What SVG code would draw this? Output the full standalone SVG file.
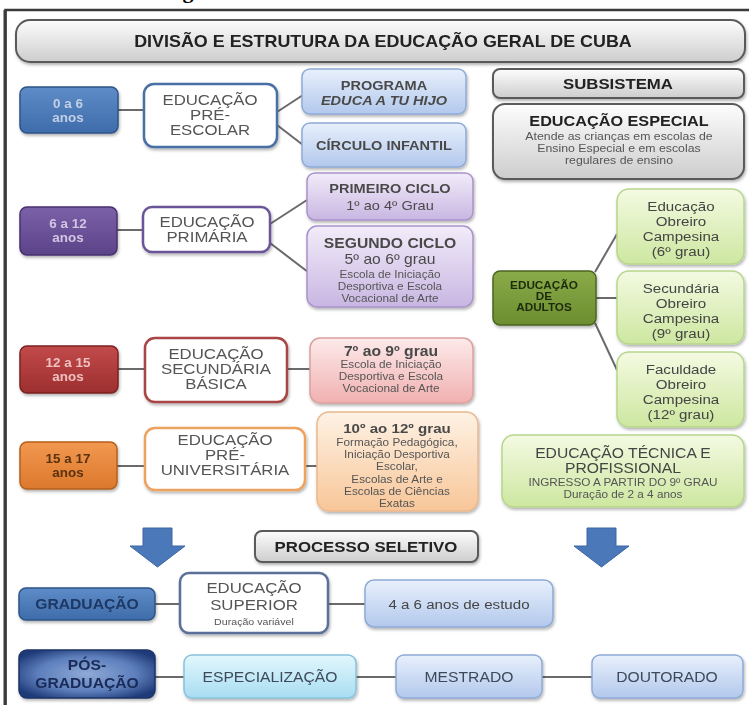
<svg xmlns="http://www.w3.org/2000/svg" width="749" height="705" viewBox="0 0 749 705">
<defs>
<linearGradient id="gGray" x1="0" y1="0" x2="0" y2="1"><stop offset="0" stop-color="#fdfdfd"/><stop offset="1" stop-color="#cdcdcd"/></linearGradient>
<linearGradient id="gBlueL" x1="0" y1="0" x2="0" y2="1"><stop offset="0" stop-color="#e8f0fc"/><stop offset="1" stop-color="#b2c8ec"/></linearGradient>
<linearGradient id="gPurL" x1="0" y1="0" x2="0" y2="1"><stop offset="0" stop-color="#f2ecf9"/><stop offset="1" stop-color="#c8b6e2"/></linearGradient>
<linearGradient id="gPink" x1="0" y1="0" x2="0" y2="1"><stop offset="0" stop-color="#fdeaea"/><stop offset="1" stop-color="#f1b0b0"/></linearGradient>
<linearGradient id="gPeach" x1="0" y1="0" x2="0" y2="1"><stop offset="0" stop-color="#fef2e4"/><stop offset="1" stop-color="#f8c699"/></linearGradient>
<linearGradient id="gGreenL" x1="0" y1="0" x2="0" y2="1"><stop offset="0" stop-color="#f4fae2"/><stop offset="1" stop-color="#cde7a0"/></linearGradient>
<linearGradient id="gCyan" x1="0" y1="0" x2="0" y2="1"><stop offset="0" stop-color="#e2f7fd"/><stop offset="1" stop-color="#a8ddf1"/></linearGradient>
<linearGradient id="gBlueD" x1="0" y1="0" x2="0" y2="1"><stop offset="0" stop-color="#5e8cc8"/><stop offset="1" stop-color="#3e6caa"/></linearGradient>
<linearGradient id="gPurD" x1="0" y1="0" x2="0" y2="1"><stop offset="0" stop-color="#7b61a8"/><stop offset="1" stop-color="#5c4388"/></linearGradient>
<linearGradient id="gRedD" x1="0" y1="0" x2="0" y2="1"><stop offset="0" stop-color="#c24a4a"/><stop offset="1" stop-color="#9d2f2f"/></linearGradient>
<linearGradient id="gOrD" x1="0" y1="0" x2="0" y2="1"><stop offset="0" stop-color="#f29850"/><stop offset="1" stop-color="#dc782c"/></linearGradient>
<linearGradient id="gGreenD" x1="0" y1="0" x2="0" y2="1"><stop offset="0" stop-color="#8aab48"/><stop offset="1" stop-color="#6c8d2f"/></linearGradient>
<radialGradient id="gPos" cx="0.5" cy="0.5" r="0.6"><stop offset="0" stop-color="#8fa9d6"/><stop offset="0.6" stop-color="#5d7fbc"/><stop offset="1" stop-color="#1f3a78"/></radialGradient>
<filter id="sh" x="-10%" y="-10%" width="125%" height="135%"><feDropShadow dx="1" dy="2" stdDeviation="1.5" flood-color="#000" flood-opacity="0.3"/></filter>
</defs>
<style>
text{font-family:"Liberation Sans",Arial,sans-serif;text-anchor:middle;transform-box:fill-box;transform-origin:center;transform:scaleX(1.12)}
.box{filter:url(#sh)}
.gray{fill:url(#gGray);stroke:#5a5a5a;stroke-width:2}
.bl{fill:url(#gBlueL);stroke:#8eaad6;stroke-width:1.5}
.pl{fill:url(#gPurL);stroke:#a992cc;stroke-width:1.5}
.pk{fill:url(#gPink);stroke:#dba0a0;stroke-width:1.5}
.pe{fill:url(#gPeach);stroke:#ebb88c;stroke-width:1.5}
.gl{fill:url(#gGreenL);stroke:#b6d68c;stroke-width:1.5}
.cy{fill:url(#gCyan);stroke:#88c2dc;stroke-width:1.5}
.wb{fill:#fff;stroke-width:2.5}
.t15{font-size:15px;fill:#555}
.tb{font-weight:bold}
.sm{font-size:10.5px;fill:#555}
.age{font-size:12px;font-weight:bold}
.con line{stroke:#6a6a6a;stroke-width:2}
.arr{fill:#4a78b8;stroke:#3b66a2;stroke-width:1}
</style>
<rect width="749" height="705" fill="#fff"/>
<text x="188" y="-2" style="font-family:'Liberation Serif',serif;font-size:22px;font-weight:bold;fill:#000;transform:none">g</text>
<rect x="5.5" y="10" width="760" height="720" fill="none" stroke="#3a3a3a" stroke-width="2.5"/>
<line x1="5" y1="10" x2="5" y2="705" stroke="#3a3a3a" stroke-width="3"/>

<g id="connectors" class="con">
<line x1="118" y1="110" x2="143" y2="110"/>
<line x1="277" y1="112" x2="303" y2="95"/>
<line x1="277" y1="125" x2="303" y2="145"/>
<line x1="117" y1="230" x2="143" y2="230"/>
<line x1="270" y1="224" x2="307" y2="200"/>
<line x1="270" y1="243" x2="308" y2="272"/>
<line x1="118" y1="369" x2="145" y2="369"/>
<line x1="287" y1="369" x2="310" y2="369"/>
<line x1="117" y1="466" x2="145" y2="466"/>
<line x1="305" y1="466" x2="317" y2="466"/>
<line x1="595" y1="272" x2="617" y2="234"/>
<line x1="595" y1="298" x2="617" y2="298"/>
<line x1="595" y1="323" x2="617" y2="370"/>
<line x1="155" y1="604" x2="180" y2="604"/>
<line x1="328" y1="604" x2="365" y2="604"/>
<line x1="155" y1="677" x2="184" y2="677"/>
<line x1="356" y1="677" x2="396" y2="677"/>
<line x1="542" y1="677" x2="592" y2="677"/>
</g>

<g id="title" class="box"><rect class="gray" x="16" y="20" width="729" height="42" rx="14"/>
<text x="383" y="47" style="font-size:16px;font-weight:bold;fill:#222">DIVISÃO E ESTRUTURA DA EDUCAÇÃO GERAL DE CUBA</text></g>

<g id="age0" class="box"><rect x="20" y="87" width="98" height="46" rx="7" fill="url(#gBlueD)" stroke="#2e5487" stroke-width="1.5"/>
<text class="age" x="68" y="108" fill="#c3cfe6">0 a 6</text><text class="age" x="68" y="122" fill="#c3cfe6">anos</text></g>
<g id="preescolar" class="box"><rect class="wb" x="144" y="84" width="133" height="63" rx="10" stroke="#4a6fa5"/>
<text class="t15" x="210" y="105">EDUCAÇÃO</text><text class="t15" x="210" y="120">PRÉ-</text><text class="t15" x="210" y="135">ESCOLAR</text></g>
<g id="programa" class="box"><rect class="bl" x="302" y="69" width="164" height="45" rx="8"/>
<text x="384" y="90" class="tb" style="font-size:13px;fill:#4a4a4a">PROGRAMA</text>
<text x="384" y="105" class="tb" style="font-size:13px;fill:#4a4a4a;font-style:italic">EDUCA A TU HIJO</text></g>
<g id="circulo" class="box"><rect class="bl" x="302" y="123" width="164" height="44" rx="8"/>
<text x="384" y="150" class="tb" style="font-size:13px;fill:#4a4a4a">CÍRCULO INFANTIL</text></g>

<g id="subsistema" class="box"><rect class="gray" x="493" y="69" width="251" height="29" rx="7"/>
<text x="618" y="89" class="tb" style="font-size:15px;fill:#222">SUBSISTEMA</text></g>
<g id="especial" class="box"><rect class="gray" x="493" y="104" width="251" height="75" rx="12"/>
<text x="619" y="126" class="tb" style="font-size:14.5px;fill:#222">EDUCAÇÃO ESPECIAL</text>
<text x="619" y="140" style="font-size:11px;fill:#555">Atende as crianças em escolas de</text>
<text x="619" y="152" style="font-size:11px;fill:#555">Ensino Especial e em escolas</text>
<text x="619" y="164" style="font-size:11px;fill:#555">regulares de ensino</text></g>

<g id="age6" class="box"><rect x="20" y="207" width="97" height="48" rx="7" fill="url(#gPurD)" stroke="#47306f" stroke-width="1.5"/>
<text class="age" x="68" y="228" fill="#d2c6e4">6 a 12</text><text class="age" x="68" y="242" fill="#d2c6e4">anos</text></g>
<g id="primaria" class="box"><rect class="wb" x="143" y="207" width="127" height="45" rx="9" stroke="#6b5598"/>
<text class="t15" x="207" y="227">EDUCAÇÃO</text><text class="t15" x="207" y="242">PRIMÁRIA</text></g>
<g id="primeiro" class="box"><rect class="pl" x="307" y="173" width="166" height="47" rx="8"/>
<text x="390" y="193" class="tb" style="font-size:13px;fill:#4a4a4a">PRIMEIRO CICLO</text>
<text x="390" y="210" style="font-size:13px;fill:#4a4a4a">1º ao 4º Grau</text></g>
<g id="segundo" class="box"><rect class="pl" x="307" y="226" width="166" height="81" rx="10"/>
<text x="390" y="248" class="tb" style="font-size:14px;fill:#4a4a4a">SEGUNDO CICLO</text>
<text x="390" y="264" style="font-size:14px;fill:#4a4a4a">5º ao 6º grau</text>
<text x="390" y="278" class="sm">Escola de Iniciação</text>
<text x="390" y="290" class="sm">Desportiva e Escola</text>
<text x="390" y="302" class="sm">Vocacional de Arte</text></g>

<g id="age12" class="box"><rect x="20" y="346" width="98" height="47" rx="7" fill="url(#gRedD)" stroke="#7c2222" stroke-width="1.5"/>
<text class="age" x="68" y="367" fill="#efc0c0">12 a 15</text><text class="age" x="68" y="381" fill="#efc0c0">anos</text></g>
<g id="secundaria" class="box"><rect class="wb" x="145" y="338" width="142" height="64" rx="10" stroke="#a84444"/>
<text class="t15" x="216" y="359">EDUCAÇÃO</text><text class="t15" x="216" y="374">SECUNDÁRIA</text><text class="t15" x="216" y="389">BÁSICA</text></g>
<g id="grau79" class="box"><rect class="pk" x="310" y="338" width="163" height="65" rx="10"/>
<text x="391" y="356" class="tb" style="font-size:14px;fill:#4a4a4a">7º ao 9º grau</text>
<text x="391" y="368" class="sm">Escola de Iniciação</text>
<text x="391" y="380" class="sm">Desportiva e Escola</text>
<text x="391" y="392" class="sm">Vocacional de Arte</text></g>

<g id="age15" class="box"><rect x="20" y="442" width="97" height="47" rx="7" fill="url(#gOrD)" stroke="#b55f1c" stroke-width="1.5"/>
<text class="age" x="68" y="463" fill="#5a3210">15 a 17</text><text class="age" x="68" y="477" fill="#5a3210">anos</text></g>
<g id="preuniv" class="box"><rect class="wb" x="145" y="428" width="160" height="62" rx="10" stroke="#eea260"/>
<text class="t15" x="225" y="445">EDUCAÇÃO</text><text class="t15" x="225" y="460">PRÉ-</text><text class="t15" x="225" y="475">UNIVERSITÁRIA</text></g>
<g id="grau1012" class="box"><rect class="pe" x="317" y="412" width="161" height="99" rx="12"/>
<text x="397" y="433" class="tb" style="font-size:13.5px;fill:#4a4a4a">10º ao 12º grau</text>
<text x="397" y="446" class="sm">Formação Pedagógica,</text>
<text x="397" y="458" class="sm">Iniciação Desportiva</text>
<text x="397" y="470" class="sm">Escolar,</text>
<text x="397" y="483" class="sm">Escolas de Arte e</text>
<text x="397" y="495" class="sm">Escolas de Ciências</text>
<text x="397" y="507" class="sm">Exatas</text></g>

<g id="adultos" class="box"><rect x="493" y="271" width="103" height="54" rx="7" fill="url(#gGreenD)" stroke="#4b6620" stroke-width="1.5"/>
<text x="544" y="289" class="tb" style="font-size:10.5px;fill:#1e2a0e">EDUCAÇÃO</text>
<text x="544" y="300" class="tb" style="font-size:10.5px;fill:#1e2a0e">DE</text>
<text x="544" y="311" class="tb" style="font-size:10.5px;fill:#1e2a0e">ADULTOS</text></g>
<g id="obreiro6" class="box"><rect class="gl" x="617" y="189" width="127" height="75" rx="12"/>
<text x="681" y="211" style="font-size:13.5px;fill:#444">Educação</text>
<text x="681" y="226" style="font-size:13.5px;fill:#444">Obreiro</text>
<text x="681" y="241" style="font-size:13.5px;fill:#444">Campesina</text>
<text x="681" y="256" style="font-size:13.5px;fill:#444">(6º grau)</text></g>
<g id="obreiro9" class="box"><rect class="gl" x="617" y="271" width="127" height="73" rx="12"/>
<text x="681" y="293" style="font-size:13.5px;fill:#444">Secundária</text>
<text x="681" y="308" style="font-size:13.5px;fill:#444">Obreiro</text>
<text x="681" y="323" style="font-size:13.5px;fill:#444">Campesina</text>
<text x="681" y="338" style="font-size:13.5px;fill:#444">(9º grau)</text></g>
<g id="obreiro12" class="box"><rect class="gl" x="617" y="352" width="127" height="75" rx="12"/>
<text x="681" y="374" style="font-size:13.5px;fill:#444">Faculdade</text>
<text x="681" y="389" style="font-size:13.5px;fill:#444">Obreiro</text>
<text x="681" y="404" style="font-size:13.5px;fill:#444">Campesina</text>
<text x="681" y="419" style="font-size:13.5px;fill:#444">(12º grau)</text></g>
<g id="tecnica" class="box"><rect class="gl" x="502" y="435" width="242" height="72" rx="12"/>
<text x="623" y="458" style="font-size:14px;fill:#444">EDUCAÇÃO TÉCNICA E</text>
<text x="623" y="473" style="font-size:14px;fill:#444">PROFISSIONAL</text>
<text x="623" y="486" class="sm">INGRESSO A PARTIR DO 9º GRAU</text>
<text x="623" y="498" class="sm">Duração de 2 a 4 anos</text></g>

<g id="arrowL"><path class="arr" d="M143,528 H172 V546 H185 L157.5,567 L130,546 H143 Z"/></g>
<g id="arrowR"><path class="arr" d="M587,528 H616 V546 H629 L601.5,567 L574,546 H587 Z"/></g>
<g id="processo" class="box"><rect class="gray" x="255" y="531" width="223" height="31" rx="7"/>
<text x="366" y="552" class="tb" style="font-size:15px;fill:#222">PROCESSO SELETIVO</text></g>

<g id="graduacao" class="box"><rect x="19" y="588" width="136" height="32" rx="7" fill="url(#gBlueD)" stroke="#2e5487" stroke-width="1.5"/>
<text x="87" y="609" class="tb" style="font-size:14px;fill:#1f3864">GRADUAÇÃO</text></g>
<g id="superior" class="box"><rect class="wb" x="180" y="573" width="148" height="60" rx="9" stroke="#5a7098"/>
<text class="t15" x="254" y="593">EDUCAÇÃO</text><text class="t15" x="254" y="610">SUPERIOR</text>
<text x="254" y="625" style="font-size:9.5px;fill:#555">Duração variável</text></g>
<g id="anos46" class="box"><rect class="bl" x="365" y="580" width="188" height="47" rx="9"/>
<text x="459" y="609" style="font-size:13.5px;fill:#444">4 a 6 anos de estudo</text></g>

<g id="posgrad" class="box"><rect x="19" y="650" width="136" height="48" rx="8" fill="url(#gPos)" stroke="#1c3366" stroke-width="1.5"/>
<text x="87" y="670" class="tb" style="font-size:14px;fill:#1a2c58">PÓS-</text>
<text x="87" y="688" class="tb" style="font-size:14px;fill:#1a2c58">GRADUAÇÃO</text></g>
<g id="especializacao" class="box"><rect class="cy" x="184" y="655" width="172" height="43" rx="8"/>
<text x="270" y="682" style="font-size:14px;fill:#3d4a5a">ESPECIALIZAÇÃO</text></g>
<g id="mestrado" class="box"><rect class="bl" x="396" y="655" width="146" height="43" rx="8"/>
<text x="469" y="682" style="font-size:14px;fill:#3d4a5a">MESTRADO</text></g>
<g id="doutorado" class="box"><rect class="bl" x="592" y="655" width="151" height="43" rx="8"/>
<text x="667" y="682" style="font-size:14px;fill:#3d4a5a">DOUTORADO</text></g>
</svg>
